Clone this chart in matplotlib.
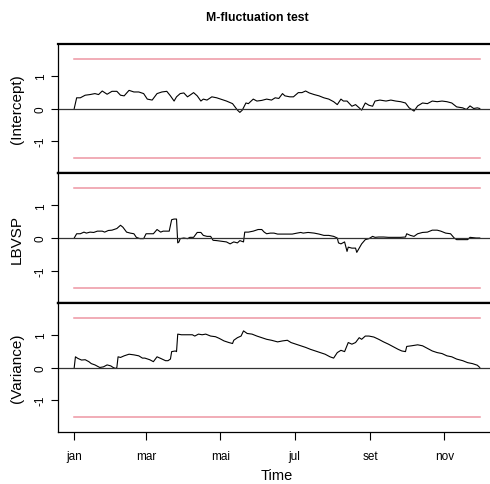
import numpy as np
import matplotlib
matplotlib.use("Agg")
import matplotlib.pyplot as plt
import matplotlib.dates as mdates
import datetime as dt

plt.rcParams['font.family'] = ['Liberation Sans', 'DejaVu Sans']

start = dt.date(2011, 1, 1)

# Panel 1: (Intercept)
int_days = [0, 2, 5, 9, 13, 17, 20, 23, 27, 31, 35, 38, 41, 45, 49, 53, 57, 60, 64, 68, 72, 76, 79, 82, 84, 87, 90, 93, 95, 98,
            101, 104, 106, 109, 113, 117, 121, 125, 130, 134, 136, 138, 141, 143, 147, 150, 154, 158, 162, 165, 168, 171, 173,
            177, 180, 184, 187, 190, 193, 197, 201, 205, 209, 213, 216, 219, 221, 224, 228, 231, 234, 236, 239, 242, 245, 247,
            251, 256, 260, 264, 268, 272, 275, 279, 282, 286, 290, 294, 298, 302, 306, 310, 314, 319, 322, 325, 328, 331, 333]
int_vals = [0, 0.33, 0.33, 0.41, 0.43, 0.46, 0.43, 0.54, 0.44, 0.53, 0.53, 0.41, 0.39, 0.56, 0.51, 0.51, 0.46, 0.29, 0.26, 0.46,
            0.51, 0.53, 0.39, 0.23, 0.36, 0.46, 0.48, 0.36, 0.41, 0.49, 0.39, 0.23, 0.29, 0.26, 0.36, 0.33, 0.28, 0.23, 0.15,
            -0.05, -0.12, -0.05, 0.17, 0.15, 0.29, 0.23, 0.25, 0.29, 0.26, 0.33, 0.31, 0.46, 0.39, 0.36, 0.36, 0.49, 0.49, 0.54,
            0.48, 0.43, 0.39, 0.33, 0.29, 0.21, 0.12, 0.29, 0.23, 0.23, 0.07, 0.12, 0.02, -0.05, 0.17, 0.10, 0.07, 0.23, 0.26,
            0.23, 0.26, 0.23, 0.21, 0.17, 0.02, -0.08, 0.08, 0.17, 0.15, 0.23, 0.21, 0.23, 0.21, 0.17, 0.05, 0.02, -0.03, 0.08,
            0, 0.02, 0]

# Panel 2: LBVSP
lb_days = [0, 2, 5, 8, 10, 13, 16, 19, 23, 25, 28, 31, 35, 38, 40, 43, 46, 49, 51, 54, 57, 59, 62, 65, 68, 71, 73, 76, 78,
           80, 82, 84, 85, 86, 87, 90, 93, 95, 98, 101, 104, 106, 109, 112, 114, 117, 121, 125, 128, 131, 134, 136, 139, 140,
           143, 147, 151, 154, 156, 158, 161, 164, 167, 171, 175, 179, 183, 186, 188, 192, 197, 201, 205, 209, 213, 216, 217,
           219, 222, 224, 225, 228, 231, 232, 234, 236, 239, 242, 245, 247, 250, 254, 258, 262, 268, 272, 273, 276, 279, 282,
           286, 290, 294, 298, 301, 305, 309, 312, 314, 319, 323, 325, 330, 333]
lb_vals = [0, 0.13, 0.13, 0.18, 0.15, 0.18, 0.17, 0.21, 0.21, 0.18, 0.23, 0.24, 0.29, 0.39, 0.33, 0.18, 0.15, 0.13, 0.02,
           -0.02, -0.02, 0.13, 0.13, 0.13, 0.26, 0.18, 0.21, 0.21, 0.21, 0.56, 0.58, 0.58, -0.15, -0.12, -0.02, 0, -0.02, 0.02,
           0.02, 0.17, 0.17, 0.08, 0.05, 0.05, -0.07, -0.08, -0.10, -0.12, -0.18, -0.12, -0.15, -0.08, -0.12, 0.18, 0.18, 0.21,
           0.26, 0.26, 0.18, 0.13, 0.15, 0.15, 0.12, 0.12, 0.12, 0.12, 0.15, 0.17, 0.15, 0.17, 0.15, 0.12, 0.08, 0.08, 0.05, 0,
           -0.15, -0.18, -0.12, -0.41, -0.28, -0.31, -0.31, -0.44, -0.31, -0.18, -0.05, -0.02, 0.05, 0.02, 0.03, 0.03, 0.02,
           0.02, 0.02, 0.03, 0.13, 0.08, 0.05, 0.13, 0.17, 0.18, 0.24, 0.24, 0.21, 0.15, 0.13, 0, -0.05, -0.05, -0.05, 0.02,
           0, 0]

# Panel 3: (Variance)
var_days = [0, 1, 3, 6, 9, 12, 14, 17, 21, 24, 27, 30, 32, 34, 35, 36, 38, 41, 45, 49, 53, 56, 58, 62, 65, 68, 71, 75, 77,
            79, 80, 83, 84, 85, 88, 93, 97, 99, 102, 105, 108, 112, 116, 119, 123, 127, 130, 131, 134, 137, 139, 142, 146,
            150, 154, 158, 162, 167, 171, 175, 178, 182, 186, 190, 194, 198, 202, 206, 210, 213, 216, 219, 222, 225, 228, 231,
            234, 236, 239, 242, 246, 250, 254, 258, 262, 266, 269, 272, 273, 277, 282, 286, 290, 294, 298, 302, 306, 310, 314,
            319, 323, 327, 331, 333]
var_vals = [0, 0.33, 0.28, 0.23, 0.24, 0.18, 0.12, 0.08, 0, 0.02, 0.08, 0.05, 0, -0.03, 0, 0.33, 0.31, 0.36, 0.41, 0.39,
            0.36, 0.29, 0.29, 0.24, 0.18, 0.33, 0.28, 0.21, 0.21, 0.26, 0.49, 0.51, 0.49, 1.03, 1.01, 1.01, 1.01, 0.97, 1.03,
            1.01, 1.03, 0.97, 0.95, 0.90, 0.82, 0.77, 0.74, 0.84, 0.92, 0.97, 1.13, 1.05, 1.03, 0.97, 0.92, 0.87, 0.84, 0.79,
            0.82, 0.84, 0.77, 0.72, 0.67, 0.62, 0.56, 0.51, 0.46, 0.41, 0.33, 0.29, 0.46, 0.53, 0.49, 0.77, 0.72, 0.77, 0.92,
            0.87, 0.97, 0.97, 0.94, 0.87, 0.79, 0.72, 0.64, 0.56, 0.51, 0.49, 0.65, 0.67, 0.70, 0.67, 0.59, 0.51, 0.46, 0.43,
            0.36, 0.33, 0.26, 0.21, 0.15, 0.12, 0.07, 0]

boundary = 1.53
panel_labels = ["(Intercept)", "LBVSP", "(Variance)"]
tick_months = [1, 3, 5, 7, 9, 11]
tick_names = ["jan", "mar", "mai", "jul", "set", "nov"]
yticks = [-1, 0, 1]

series = [(int_days, int_vals), (lb_days, lb_vals), (var_days, var_vals)]

W, H = 490, 485
fig = plt.figure(figsize=(W / 100, H / 100), dpi=100)

def d2n(days):
    return mdates.date2num([start + dt.timedelta(days=int(d)) for d in days])

x0 = mdates.date2num(start)
x1 = mdates.date2num(start + dt.timedelta(days=333))
ext = (x1 - x0) * 0.04

panels_px = [(45, 174), (174, 304), (304, 433)]
left_px, right_px = 58, 496

for i, ((days, vals), (top, bot)) in enumerate(zip(series, panels_px)):
    ax = fig.add_axes([left_px / W, (H - bot) / H, (right_px - left_px) / W, (bot - top) / H])
    xs = d2n(days)
    ax.plot(xs, vals, color='black', lw=0.8)
    ax.axhline(0, color='#333333', lw=0.9)
    ax.plot([x0, x1], [boundary, boundary], color='#EE96A3', lw=1.1)
    ax.plot([x0, x1], [-boundary, -boundary], color='#EE96A3', lw=1.1)
    ax.set_xlim(x0 - ext, x1 + ext)
    ax.set_ylim(-1.99, 1.99)
    ax.set_yticks(yticks)
    ax.set_yticklabels([str(t) for t in yticks], rotation=90, va='center', fontsize=8.5)
    ax.tick_params(axis='y', length=5, width=0.8, pad=3)
    for s in ['left', 'bottom', 'right']:
        ax.spines[s].set_linewidth(0.9)
    ax.spines['top'].set_linewidth(1.6)
    ax.spines['right'].set_visible(False)
    if i < 2:
        ax.spines['bottom'].set_linewidth(1.6)
        ax.set_xticks([])
    else:
        ticks = mdates.date2num([dt.date(2011, m, 1) for m in tick_months])
        ax.set_xticks(ticks)
        ax.set_xticklabels(tick_names, fontsize=8.5)
        ax.tick_params(axis='x', length=6, width=0.8, pad=7)
    fig.text(17 / W, 1 - (top + bot) / 2 / H, panel_labels[i], rotation=90,
             ha='center', va='center', fontsize=11)

fig.text(257 / W, 1 - 18 / H, "M-fluctuation test", ha='center', va='center',
         fontsize=8.8, fontweight='bold')
fig.text(277 / W, 1 - 476 / H, "Time", ha='center', va='center', fontsize=10.5)

fig.savefig("out.png", dpi=100)
